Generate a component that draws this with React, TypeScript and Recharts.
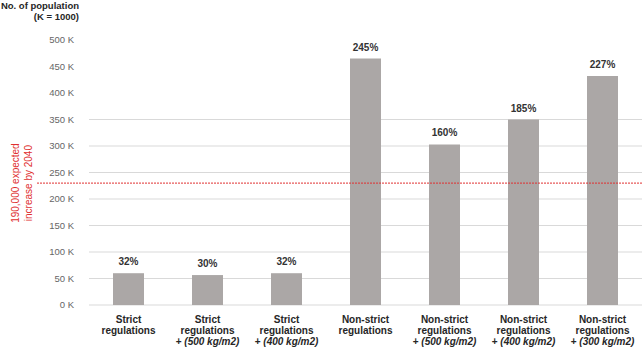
import React from "react";
import { BarChart, Bar, XAxis, YAxis, CartesianGrid, ReferenceLine, LabelList } from "recharts";

const categoryLine1 = ["Strict", "Strict", "Strict", "Non-strict", "Non-strict", "Non-strict", "Non-strict"];
const categoryLine2 = ["regulations", "regulations", "regulations", "regulations", "regulations", "regulations", "regulations"];
const categoryLine3 = ["", "(500 kg/m2)", "(400 kg/m2)", "", "(500 kg/m2)", "(400 kg/m2)", "(300 kg/m2)"];
const populationValues = [60000, 56500, 60000, 465000, 303000, 350000, 432000];
const percentLabels = ["32%", "30%", "32%", "245%", "160%", "185%", "227%"];
const yTicks = [0, 50000, 100000, 150000, 200000, 250000, 300000, 350000, 400000, 450000, 500000];
const gridValues = [0, 50000, 100000, 150000, 200000, 250000, 300000, 350000];
const expectedLevel = 230000;
const expectedText = ["190,000 expected", "increase by 2040"];

const data = categoryLine1.map((c, i) => ({
  idx: i,
  value: populationValues[i],
  pct: percentLabels[i],
}));

const FONT = "'Liberation Sans', Arial, sans-serif";
const RED = "#E03030";

const XTick = (props: any) => {
  const { x, y, payload } = props;
  const i = payload.value;
  return (
    <g transform={`translate(${x},${y})`}>
      <text textAnchor="middle" fontFamily={FONT} fontSize={10} fontWeight="bold" fill="#262626">
        <tspan x={0} y={10}>{categoryLine1[i]}</tspan>
        <tspan x={0} y={21}>{categoryLine2[i]}</tspan>
        {categoryLine3[i] ? (
          <tspan x={0} y={32}>
            {"+ "}
            <tspan fontStyle="italic">{categoryLine3[i]}</tspan>
          </tspan>
        ) : null}
      </text>
    </g>
  );
};

const RefShape = (props: any) => {
  const { x1, y1, x2 } = props;
  const cx = 22;
  return (
    <g>
      <line x1={x1 - 52} y1={y1} x2={x2} y2={y1} stroke={RED} strokeWidth={1} strokeDasharray="2 1" />
      <text
        transform={`translate(${cx},${y1}) rotate(-90)`}
        textAnchor="middle"
        fontFamily={FONT}
        fontSize={10}
        fill={RED}
      >
        <tspan x={0} y={-3}>{expectedText[0]}</tspan>
        <tspan x={0} y={10}>{expectedText[1]}</tspan>
      </text>
    </g>
  );
};

export default function App() {
  return (
    <div style={{ position: "absolute", left: 0, top: 0, width: 643, height: 356, background: "#fff" }}>
      <BarChart
        width={643}
        height={356}
        data={data}
        margin={{ top: 40, right: 1, bottom: 0, left: 0 }}
        barCategoryGap={0}
        style={{ position: "absolute", left: 0, top: 0 }}
      >
        <CartesianGrid vertical={false} stroke="#D9D9D9" horizontalValues={gridValues} />
        <XAxis
          dataKey="idx"
          type="category"
          axisLine={false}
          tickLine={false}
          tick={<XTick />}
          interval={0}
          height={51}
        />
        <YAxis
          width={89}
          domain={[0, 500000]}
          ticks={yTicks}
          axisLine={false}
          tickLine={false}
          tickSize={6}
          tickMargin={9}
          tickFormatter={(v: number) => `${v / 1000} K`}
          tick={{ fontFamily: FONT, fontSize: 9.5, fill: "#666666" }}
          interval={0}
        />
        <ReferenceLine y={expectedLevel} stroke={RED} shape={<RefShape />} ifOverflow="visible" />
        <Bar dataKey="value" fill="#ABA7A6" barSize={31} isAnimationActive={false}>
          <LabelList
            dataKey="pct"
            position="top"
            offset={8}
            style={{ fontFamily: FONT, fontSize: 10, fontWeight: "bold", fill: "#333333" }}
          />
        </Bar>
      </BarChart>
      <svg style={{ position: "absolute", left: 0, top: 0 }} width={643} height={30}>
        <text textAnchor="end" fontFamily={FONT} fontSize={9.5} fontWeight="bold" fill="#262626">
          <tspan x={79} y={9}>No. of population</tspan>
          <tspan x={79} y={20}>(K = 1000)</tspan>
        </text>
      </svg>
    </div>
  );
}
